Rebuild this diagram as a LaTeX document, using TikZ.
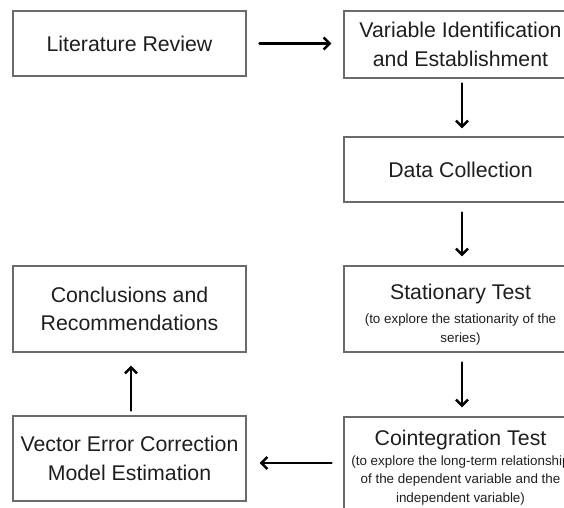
\documentclass[tikz,border=0pt]{standalone}
\usepackage{fontspec}
\setmainfont{Liberation Sans}
\usetikzlibrary{arrows.meta}
\newcommand{\bigtxt}{\fontsize{21.3}{28.5}\selectfont}
\newcommand{\smalltxt}{\fontsize{13.4}{18.7}\selectfont}
\definecolor{boxline}{HTML}{6A6A6A}
\definecolor{txt}{HTML}{1E1E1E}
\begin{document}
\begin{tikzpicture}[x=1pt,y=-1pt,
  box/.style={draw=boxline, line width=1.1pt, rectangle, inner sep=0pt, minimum width=233pt},
  bigtext/.style={font=\bigtxt, text=txt, align=center, inner sep=0pt},
  smalltext/.style={font=\smalltxt, text=txt, align=center, inner sep=0pt},
  arr/.style={line width=2.6pt, black, line cap=round, -{Straight Barb[length=6pt,width=12pt,line width=2.6pt]}}]
\useasboundingbox (0,0) rectangle (564,507);
\clip (0,0) rectangle (564,507);
% boxes
\node[box, minimum height=65pt] (lit) at (129.5,43.5) {};
\node[box, minimum height=67pt] (var) at (460.5,44.5) {};
\node[box, minimum height=65pt] (data) at (460.5,169.5) {};
\node[box, minimum height=86pt] (stat) at (460.5,309) {};
\node[box, minimum height=99pt] (coint) at (460.5,466.5) {};
\node[box, minimum height=86pt] (concl) at (129.5,309) {};
\node[box, minimum height=85pt] (vecm) at (129.5,458.5) {};
% texts
\node[bigtext] (litt) at (lit.center) {Literature Review};
\node[bigtext] (vart) at (var.center) {Variable Identification\\and Establishment};
\node[bigtext] (datat) at (data.center) {Data Collection};
\node[smalltext] (statt) at (460.5,314.5) {{\bigtxt Stationary Test}\\[5pt](to explore the stationarity of the\\series)};
\node[smalltext] (cointt) at (460.5,467.8) {{\bigtxt Cointegration Test}\\[0.5pt](to explore the long-term relationship\\of the dependent variable and the\\independent variable)};
\node[bigtext] (conclt) at (concl.center) {Conclusions and\\Recommendations};
\node[bigtext] (vecmt) at (vecm.center) {Vector Error Correction\\Model Estimation};
% arrows
\draw[arr, shorten <=13pt, shorten >=12pt] (lit.east) -- (lit.east -| var.west);
\draw[arr, shorten <=5pt, shorten >=8pt] (var.south -| 462,0) -- (data.north -| 462,0);
\draw[arr, shorten <=10pt, shorten >=9pt] (data.south -| 462,0) -- (stat.north -| 462,0);
\draw[arr, shorten <=10pt, shorten >=9pt] (stat.south -| 462,0) -- (coint.north -| 462,0);
\draw[arr, shorten <=12pt, shorten >=13pt] (coint.west |- 0,463) -- (vecm.east |- 0,463);
\draw[arr, shorten <=5pt, shorten >=13pt] (vecm.north -| 131,0) -- (concl.south -| 131,0);
\end{tikzpicture}
\end{document}
